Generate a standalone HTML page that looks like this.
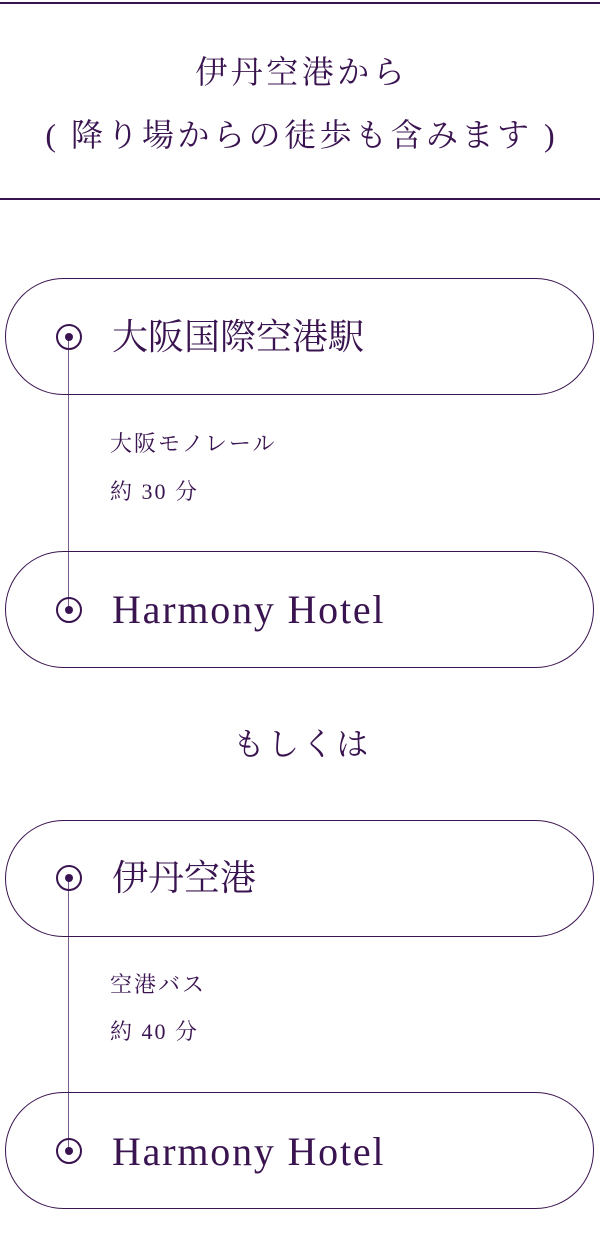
<!DOCTYPE html>
<html><head><meta charset="utf-8"><style>
body{margin:0;width:600px;height:1260px;background:#fff;color:#3a1450;font-family:"Liberation Serif","Noto Serif CJK SC",serif;position:relative;overflow:hidden}
.a{position:absolute}
.hl{left:0;width:600px;height:2px;background:#3a1450}
.t{left:0;width:600px;text-align:center;font-size:32px;line-height:40px;letter-spacing:3.5px;text-indent:3.5px;white-space:nowrap}
.pill{left:5px;width:589px;height:117px;border:1px solid #3a1450;border-radius:59px;box-sizing:border-box}
.c{width:26px;height:26px;border:2px solid #3a1450;border-radius:50%;box-sizing:border-box}
.c::after{content:"";position:absolute;left:7px;top:7px;width:8px;height:8px;border-radius:50%;background:#3a1450}
.n{left:112px;font-size:36px;line-height:40px;white-space:nowrap}
.h{font-size:40px;letter-spacing:1.8px}
.s{left:110px;font-size:22px;line-height:28px;letter-spacing:2px;white-space:nowrap}
.v{left:68px;width:1px;background:#7a5a8f}
</style></head><body>
<div class="a hl" style="top:2px"></div>
<div class="a t" style="top:52px">伊丹空港から</div>
<div class="a t" style="top:115px">( 降り場からの徒歩も含みます )</div>
<div class="a hl" style="top:198px"></div>

<div class="a v" style="top:337px;height:273px"></div>
<div class="a pill" style="top:278px"></div>
<div class="a c" style="left:56px;top:324px"></div>
<div class="a n" style="top:317px">大阪国際空港駅</div>
<div class="a s" style="top:430px">大阪モノレール</div>
<div class="a s" style="top:478px">約 30 分</div>
<div class="a pill" style="top:551px"></div>
<div class="a c" style="left:56px;top:597px"></div>
<div class="a n h" style="top:590px">Harmony Hotel</div>

<div class="a t" style="top:724px;letter-spacing:2.5px">もしくは</div>

<div class="a v" style="top:878px;height:274px"></div>
<div class="a pill" style="top:820px"></div>
<div class="a c" style="left:56px;top:865px"></div>
<div class="a n" style="top:858px">伊丹空港</div>
<div class="a s" style="top:971px">空港バス</div>
<div class="a s" style="top:1018px">約 40 分</div>
<div class="a pill" style="top:1092px"></div>
<div class="a c" style="left:56px;top:1138px"></div>
<div class="a n h" style="top:1132px">Harmony Hotel</div>
</body></html>
